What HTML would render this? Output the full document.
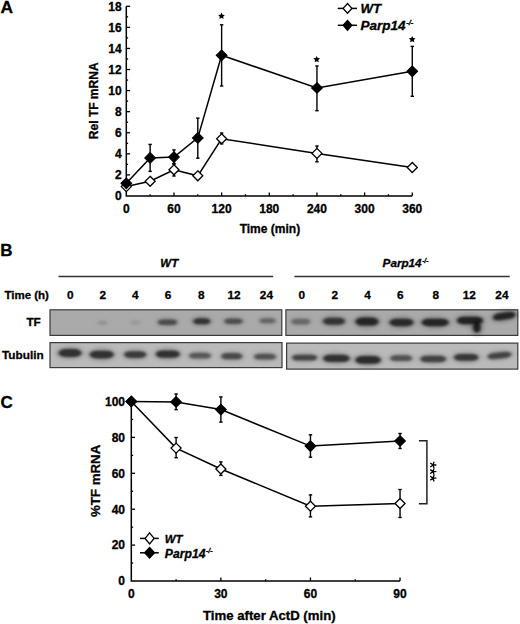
<!DOCTYPE html>
<html><head><meta charset="utf-8"><style>
html,body{margin:0;padding:0;background:#fff;}
body{width:520px;height:624px;overflow:hidden;}
svg{display:block;}
text{font-family:"Liberation Sans", sans-serif;font-weight:bold;fill:#000;stroke:#000;stroke-width:0.3px;}
</style></head><body>
<svg width="520" height="624" viewBox="0 0 520 624">
<text x="0.4" y="13.45" font-size="17.4" font-style="normal" text-anchor="start" >A</text>
<path d="M126.3,6.28 V196.0 H412.28" fill="none" stroke="#000" stroke-width="1.5"/>
<line x1="126.3" y1="185.46" x2="128.1" y2="185.46" stroke="#000" stroke-width="1.3"/>
<line x1="126.3" y1="174.92" x2="130.1" y2="174.92" stroke="#000" stroke-width="1.3"/>
<line x1="126.3" y1="164.38" x2="128.1" y2="164.38" stroke="#000" stroke-width="1.3"/>
<line x1="126.3" y1="153.84" x2="130.1" y2="153.84" stroke="#000" stroke-width="1.3"/>
<line x1="126.3" y1="143.30" x2="128.1" y2="143.30" stroke="#000" stroke-width="1.3"/>
<line x1="126.3" y1="132.76" x2="130.1" y2="132.76" stroke="#000" stroke-width="1.3"/>
<line x1="126.3" y1="122.22" x2="128.1" y2="122.22" stroke="#000" stroke-width="1.3"/>
<line x1="126.3" y1="111.68" x2="130.1" y2="111.68" stroke="#000" stroke-width="1.3"/>
<line x1="126.3" y1="101.14" x2="128.1" y2="101.14" stroke="#000" stroke-width="1.3"/>
<line x1="126.3" y1="90.60" x2="130.1" y2="90.60" stroke="#000" stroke-width="1.3"/>
<line x1="126.3" y1="80.06" x2="128.1" y2="80.06" stroke="#000" stroke-width="1.3"/>
<line x1="126.3" y1="69.52" x2="130.1" y2="69.52" stroke="#000" stroke-width="1.3"/>
<line x1="126.3" y1="58.98" x2="128.1" y2="58.98" stroke="#000" stroke-width="1.3"/>
<line x1="126.3" y1="48.44" x2="130.1" y2="48.44" stroke="#000" stroke-width="1.3"/>
<line x1="126.3" y1="37.90" x2="128.1" y2="37.90" stroke="#000" stroke-width="1.3"/>
<line x1="126.3" y1="27.36" x2="130.1" y2="27.36" stroke="#000" stroke-width="1.3"/>
<line x1="126.3" y1="16.82" x2="128.1" y2="16.82" stroke="#000" stroke-width="1.3"/>
<line x1="126.3" y1="6.28" x2="130.1" y2="6.28" stroke="#000" stroke-width="1.3"/>
<text x="121.6" y="200.3" font-size="12" font-style="normal" text-anchor="end" >0</text>
<text x="121.6" y="179.22000000000003" font-size="12" font-style="normal" text-anchor="end" >2</text>
<text x="121.6" y="158.14000000000001" font-size="12" font-style="normal" text-anchor="end" >4</text>
<text x="121.6" y="137.06" font-size="12" font-style="normal" text-anchor="end" >6</text>
<text x="121.6" y="115.98" font-size="12" font-style="normal" text-anchor="end" >8</text>
<text x="121.6" y="94.9" font-size="12" font-style="normal" text-anchor="end" >10</text>
<text x="121.6" y="73.82000000000001" font-size="12" font-style="normal" text-anchor="end" >12</text>
<text x="121.6" y="52.739999999999995" font-size="12" font-style="normal" text-anchor="end" >14</text>
<text x="121.6" y="31.660000000000014" font-size="12" font-style="normal" text-anchor="end" >16</text>
<text x="121.6" y="10.58000000000003" font-size="12" font-style="normal" text-anchor="end" >18</text>
<line x1="150.13" y1="196.0" x2="150.13" y2="194.2" stroke="#000" stroke-width="1.3"/>
<line x1="173.96" y1="196.0" x2="173.96" y2="192.4" stroke="#000" stroke-width="1.3"/>
<line x1="197.80" y1="196.0" x2="197.80" y2="194.2" stroke="#000" stroke-width="1.3"/>
<line x1="221.63" y1="196.0" x2="221.63" y2="192.4" stroke="#000" stroke-width="1.3"/>
<line x1="245.46" y1="196.0" x2="245.46" y2="194.2" stroke="#000" stroke-width="1.3"/>
<line x1="269.29" y1="196.0" x2="269.29" y2="192.4" stroke="#000" stroke-width="1.3"/>
<line x1="293.12" y1="196.0" x2="293.12" y2="194.2" stroke="#000" stroke-width="1.3"/>
<line x1="316.96" y1="196.0" x2="316.96" y2="192.4" stroke="#000" stroke-width="1.3"/>
<line x1="340.79" y1="196.0" x2="340.79" y2="194.2" stroke="#000" stroke-width="1.3"/>
<line x1="364.62" y1="196.0" x2="364.62" y2="192.4" stroke="#000" stroke-width="1.3"/>
<line x1="388.45" y1="196.0" x2="388.45" y2="194.2" stroke="#000" stroke-width="1.3"/>
<line x1="412.28" y1="196.0" x2="412.28" y2="192.4" stroke="#000" stroke-width="1.3"/>
<text x="126.3" y="213.3" font-size="12" font-style="normal" text-anchor="middle" >0</text>
<text x="173.964" y="213.3" font-size="12" font-style="normal" text-anchor="middle" >60</text>
<text x="221.628" y="213.3" font-size="12" font-style="normal" text-anchor="middle" >120</text>
<text x="269.292" y="213.3" font-size="12" font-style="normal" text-anchor="middle" >180</text>
<text x="316.956" y="213.3" font-size="12" font-style="normal" text-anchor="middle" >240</text>
<text x="364.62" y="213.3" font-size="12" font-style="normal" text-anchor="middle" >300</text>
<text x="412.284" y="213.3" font-size="12" font-style="normal" text-anchor="middle" >360</text>
<text x="269.9" y="233.2" font-size="12" font-style="normal" text-anchor="middle" >Time (min)</text>
<text x="0" y="0" font-size="12" font-style="normal" text-anchor="middle" transform="translate(98.4,100.8) rotate(-90)">Rel TF mRNA</text>
<line x1="173.96" y1="163.5" x2="173.96" y2="176.0" stroke="#000" stroke-width="1.4"/><line x1="172.26000000000002" y1="163.5" x2="175.66" y2="163.5" stroke="#000" stroke-width="1.4"/><line x1="172.26000000000002" y1="176.0" x2="175.66" y2="176.0" stroke="#000" stroke-width="1.4"/>
<line x1="221.63" y1="133.0" x2="221.63" y2="143.9" stroke="#000" stroke-width="1.4"/><line x1="219.93" y1="133.0" x2="223.32999999999998" y2="133.0" stroke="#000" stroke-width="1.4"/><line x1="219.93" y1="143.9" x2="223.32999999999998" y2="143.9" stroke="#000" stroke-width="1.4"/>
<line x1="316.96" y1="146.0" x2="316.96" y2="161.8" stroke="#000" stroke-width="1.4"/><line x1="315.26" y1="146.0" x2="318.65999999999997" y2="146.0" stroke="#000" stroke-width="1.4"/><line x1="315.26" y1="161.8" x2="318.65999999999997" y2="161.8" stroke="#000" stroke-width="1.4"/>
<line x1="150.13" y1="144.4" x2="150.13" y2="171.4" stroke="#000" stroke-width="1.4"/><line x1="148.43" y1="144.4" x2="151.82999999999998" y2="144.4" stroke="#000" stroke-width="1.4"/><line x1="148.43" y1="171.4" x2="151.82999999999998" y2="171.4" stroke="#000" stroke-width="1.4"/>
<line x1="173.96" y1="149.9" x2="173.96" y2="164.2" stroke="#000" stroke-width="1.4"/><line x1="172.26000000000002" y1="149.9" x2="175.66" y2="149.9" stroke="#000" stroke-width="1.4"/><line x1="172.26000000000002" y1="164.2" x2="175.66" y2="164.2" stroke="#000" stroke-width="1.4"/>
<line x1="197.8" y1="118.1" x2="197.8" y2="158.2" stroke="#000" stroke-width="1.4"/><line x1="196.10000000000002" y1="118.1" x2="199.5" y2="118.1" stroke="#000" stroke-width="1.4"/><line x1="196.10000000000002" y1="158.2" x2="199.5" y2="158.2" stroke="#000" stroke-width="1.4"/>
<line x1="221.63" y1="24.8" x2="221.63" y2="86.0" stroke="#000" stroke-width="1.4"/><line x1="219.93" y1="24.8" x2="223.32999999999998" y2="24.8" stroke="#000" stroke-width="1.4"/><line x1="219.93" y1="86.0" x2="223.32999999999998" y2="86.0" stroke="#000" stroke-width="1.4"/>
<line x1="316.96" y1="66.0" x2="316.96" y2="110.7" stroke="#000" stroke-width="1.4"/><line x1="315.26" y1="66.0" x2="318.65999999999997" y2="66.0" stroke="#000" stroke-width="1.4"/><line x1="315.26" y1="110.7" x2="318.65999999999997" y2="110.7" stroke="#000" stroke-width="1.4"/>
<line x1="412.28" y1="46.4" x2="412.28" y2="96.3" stroke="#000" stroke-width="1.4"/><line x1="410.58" y1="46.4" x2="413.97999999999996" y2="46.4" stroke="#000" stroke-width="1.4"/><line x1="410.58" y1="96.3" x2="413.97999999999996" y2="96.3" stroke="#000" stroke-width="1.4"/>
<polyline points="126.30,186.6 150.13,181.3 173.96,169.8 197.80,175.8 221.63,138.8 316.96,153.4 412.28,167.5" fill="none" stroke="#000" stroke-width="1.5"/>
<polyline points="126.30,183.3 150.13,157.9 173.96,157.1 197.80,137.9 221.63,55.3 316.96,88.0 412.28,71.3" fill="none" stroke="#000" stroke-width="1.5"/>
<path d="M126.30,181.60 L131.30,186.60 L126.30,191.60 L121.30,186.60 Z" fill="#fff" stroke="#000" stroke-width="1.3" stroke-linejoin="miter"/>
<path d="M150.13,176.30 L155.13,181.30 L150.13,186.30 L145.13,181.30 Z" fill="#fff" stroke="#000" stroke-width="1.3" stroke-linejoin="miter"/>
<path d="M173.96,164.80 L178.96,169.80 L173.96,174.80 L168.96,169.80 Z" fill="#fff" stroke="#000" stroke-width="1.3" stroke-linejoin="miter"/>
<path d="M197.80,170.80 L202.80,175.80 L197.80,180.80 L192.80,175.80 Z" fill="#fff" stroke="#000" stroke-width="1.3" stroke-linejoin="miter"/>
<path d="M221.63,133.80 L226.63,138.80 L221.63,143.80 L216.63,138.80 Z" fill="#fff" stroke="#000" stroke-width="1.3" stroke-linejoin="miter"/>
<path d="M316.96,148.40 L321.96,153.40 L316.96,158.40 L311.96,153.40 Z" fill="#fff" stroke="#000" stroke-width="1.3" stroke-linejoin="miter"/>
<path d="M412.28,162.50 L417.28,167.50 L412.28,172.50 L407.28,167.50 Z" fill="#fff" stroke="#000" stroke-width="1.3" stroke-linejoin="miter"/>
<path d="M126.30,178.10 L131.50,183.30 L126.30,188.50 L121.10,183.30 Z" fill="#000" stroke="#000" stroke-width="1.3" stroke-linejoin="miter"/>
<path d="M150.13,152.70 L155.33,157.90 L150.13,163.10 L144.93,157.90 Z" fill="#000" stroke="#000" stroke-width="1.3" stroke-linejoin="miter"/>
<path d="M173.96,151.90 L179.16,157.10 L173.96,162.30 L168.76,157.10 Z" fill="#000" stroke="#000" stroke-width="1.3" stroke-linejoin="miter"/>
<path d="M197.80,132.70 L203.00,137.90 L197.80,143.10 L192.60,137.90 Z" fill="#000" stroke="#000" stroke-width="1.3" stroke-linejoin="miter"/>
<path d="M221.63,50.10 L226.83,55.30 L221.63,60.50 L216.43,55.30 Z" fill="#000" stroke="#000" stroke-width="1.3" stroke-linejoin="miter"/>
<path d="M316.96,82.80 L322.16,88.00 L316.96,93.20 L311.76,88.00 Z" fill="#000" stroke="#000" stroke-width="1.3" stroke-linejoin="miter"/>
<path d="M412.28,66.10 L417.48,71.30 L412.28,76.50 L407.08,71.30 Z" fill="#000" stroke="#000" stroke-width="1.3" stroke-linejoin="miter"/>
<polygon points="221.50,12.60 222.53,14.68 224.83,15.02 223.16,16.64 223.56,18.93 221.50,17.85 219.44,18.93 219.84,16.64 218.17,15.02 220.47,14.68" fill="#000"/>
<polygon points="316.70,55.90 317.73,57.98 320.03,58.32 318.36,59.94 318.76,62.23 316.70,61.15 314.64,62.23 315.04,59.94 313.37,58.32 315.67,57.98" fill="#000"/>
<polygon points="412.20,35.90 413.23,37.98 415.53,38.32 413.86,39.94 414.26,42.23 412.20,41.15 410.14,42.23 410.54,39.94 408.87,38.32 411.17,37.98" fill="#000"/>
<line x1="337.8" y1="8.4" x2="357.0" y2="8.4" stroke="#000" stroke-width="1.5"/>
<path d="M347.50,3.50 L351.90,8.40 L347.50,13.30 L343.10,8.40 Z" fill="#fff" stroke="#000" stroke-width="1.3" stroke-linejoin="miter"/>
<line x1="337.8" y1="25.3" x2="357.0" y2="25.3" stroke="#000" stroke-width="1.5"/>
<path d="M347.50,20.40 L351.80,25.30 L347.50,30.20 L343.20,25.30 Z" fill="#000" stroke="#000" stroke-width="1.3" stroke-linejoin="miter"/>
<text x="360.6" y="13.2" font-size="13.2" font-style="italic" text-anchor="start" >WT</text>
<text x="360.6" y="30.2" font-size="13.5" font-style="italic" text-anchor="start" >Parp14<tspan font-size="7.6" dy="-5.6" dx="0.6">-/-</tspan></text>
<text x="0.2" y="255.9" font-size="17" font-style="normal" text-anchor="start" >B</text>
<text x="169.3" y="266.7" font-size="11.5" font-style="italic" text-anchor="middle" >WT</text>
<text x="382.6" y="267.0" font-size="11.7" font-style="italic" text-anchor="start" >Parp14<tspan font-size="6.6" dy="-4.0" dx="0.6">-/-</tspan></text>
<line x1="58.5" y1="276.5" x2="273.2" y2="276.5" stroke="#333" stroke-width="1.4"/>
<line x1="294.4" y1="276.5" x2="509.7" y2="276.5" stroke="#333" stroke-width="1.4"/>
<text x="4.4" y="298.9" font-size="11.5" font-style="normal" text-anchor="start" >Time (h)</text>
<text x="70.3" y="298.9" font-size="11.8" font-style="normal" text-anchor="middle" >0</text>
<text x="102.7" y="298.9" font-size="11.8" font-style="normal" text-anchor="middle" >2</text>
<text x="135.4" y="298.9" font-size="11.8" font-style="normal" text-anchor="middle" >4</text>
<text x="168.0" y="298.9" font-size="11.8" font-style="normal" text-anchor="middle" >6</text>
<text x="201.2" y="298.9" font-size="11.8" font-style="normal" text-anchor="middle" >8</text>
<text x="234.1" y="298.9" font-size="11.8" font-style="normal" text-anchor="middle" >12</text>
<text x="266.4" y="298.9" font-size="11.8" font-style="normal" text-anchor="middle" >24</text>
<text x="301.9" y="298.9" font-size="11.8" font-style="normal" text-anchor="middle" >0</text>
<text x="334.9" y="298.9" font-size="11.8" font-style="normal" text-anchor="middle" >2</text>
<text x="367.6" y="298.9" font-size="11.8" font-style="normal" text-anchor="middle" >4</text>
<text x="400.4" y="298.9" font-size="11.8" font-style="normal" text-anchor="middle" >6</text>
<text x="435.8" y="298.9" font-size="11.8" font-style="normal" text-anchor="middle" >8</text>
<text x="469.3" y="298.9" font-size="11.8" font-style="normal" text-anchor="middle" >12</text>
<text x="501.9" y="298.9" font-size="11.8" font-style="normal" text-anchor="middle" >24</text>
<text x="40.8" y="326.3" font-size="11.8" font-style="normal" text-anchor="end" >TF</text>
<text x="2.0" y="359.0" font-size="11.8" font-style="normal" text-anchor="start" >Tubulin</text>
<defs>
<filter id="bl" x="-50%" y="-150%" width="200%" height="400%"><feGaussianBlur stdDeviation="1.5 1.3"/></filter>
<filter id="bl2" x="-50%" y="-150%" width="200%" height="400%"><feGaussianBlur stdDeviation="2.4 2.0"/></filter>
</defs>
<rect x="50.0" y="309.8" width="231.8" height="25.599999999999966" fill="#aaaaaa" stroke="#3a3a3a" stroke-width="1.2"/>
<rect x="285.9" y="309.8" width="231.89999999999998" height="25.599999999999966" fill="#aaaaaa" stroke="#3a3a3a" stroke-width="1.2"/>
<rect x="50.0" y="342.6" width="232.0" height="25.0" fill="#bababa" stroke="#3a3a3a" stroke-width="1.2"/>
<rect x="286.6" y="343.1" width="231.19999999999993" height="26.0" fill="#bababa" stroke="#3a3a3a" stroke-width="1.2"/>
<ellipse cx="102.5" cy="322.8" rx="6.50" ry="3.20" fill="#000" fill-opacity="0.042" filter="url(#bl2)"/><rect x="98.00" y="320.80" width="9.00" height="4.00" rx="3.60" ry="2.00" fill="#000" fill-opacity="0.115" filter="url(#bl)"/>
<ellipse cx="135.5" cy="322.6" rx="6.50" ry="3.20" fill="#000" fill-opacity="0.030" filter="url(#bl2)"/><rect x="131.00" y="320.60" width="9.00" height="4.00" rx="3.60" ry="2.00" fill="#000" fill-opacity="0.082" filter="url(#bl)"/>
<ellipse cx="167.5" cy="322.2" rx="11.50" ry="4.48" fill="#000" fill-opacity="0.174" filter="url(#bl2)"/><rect x="158.00" y="319.40" width="19.00" height="5.60" rx="5.04" ry="2.80" fill="#000" fill-opacity="0.476" filter="url(#bl)"/>
<ellipse cx="201.8" cy="321.3" rx="10.50" ry="4.80" fill="#000" fill-opacity="0.228" filter="url(#bl2)"/><rect x="193.30" y="318.30" width="17.00" height="6.00" rx="5.40" ry="3.00" fill="#000" fill-opacity="0.623" filter="url(#bl)"/>
<ellipse cx="233.5" cy="321.3" rx="11.00" ry="4.32" fill="#000" fill-opacity="0.168" filter="url(#bl2)"/><rect x="224.50" y="318.60" width="18.00" height="5.40" rx="4.86" ry="2.70" fill="#000" fill-opacity="0.459" filter="url(#bl)"/>
<ellipse cx="267.5" cy="320.8" rx="10.00" ry="4.00" fill="#000" fill-opacity="0.120" filter="url(#bl2)"/><rect x="259.50" y="318.30" width="16.00" height="5.00" rx="4.50" ry="2.50" fill="#000" fill-opacity="0.328" filter="url(#bl)"/>
<ellipse cx="300.8" cy="321.6" rx="11.50" ry="4.64" fill="#000" fill-opacity="0.114" filter="url(#bl2)"/><rect x="291.30" y="318.70" width="19.00" height="5.80" rx="5.22" ry="2.90" fill="#000" fill-opacity="0.312" filter="url(#bl)"/>
<ellipse cx="334.0" cy="321.2" rx="13.00" ry="5.60" fill="#000" fill-opacity="0.222" filter="url(#bl2)"/><rect x="323.00" y="317.70" width="22.00" height="7.00" rx="6.30" ry="3.50" fill="#000" fill-opacity="0.607" filter="url(#bl)"/>
<ellipse cx="367.0" cy="321.6" rx="13.50" ry="6.40" fill="#000" fill-opacity="0.258" filter="url(#bl2)"/><rect x="355.50" y="317.60" width="23.00" height="8.00" rx="7.20" ry="4.00" fill="#000" fill-opacity="0.705" filter="url(#bl)"/>
<ellipse cx="401.5" cy="322.4" rx="14.00" ry="6.00" fill="#000" fill-opacity="0.246" filter="url(#bl2)"/><rect x="389.50" y="318.65" width="24.00" height="7.50" rx="6.75" ry="3.75" fill="#000" fill-opacity="0.672" filter="url(#bl)"/>
<ellipse cx="435.2" cy="322.4" rx="15.50" ry="6.00" fill="#000" fill-opacity="0.258" filter="url(#bl2)"/><rect x="421.70" y="318.65" width="27.00" height="7.50" rx="6.75" ry="3.75" fill="#000" fill-opacity="0.705" filter="url(#bl)"/>
<ellipse cx="470.0" cy="320.5" rx="15.00" ry="6.00" fill="#000" fill-opacity="0.264" filter="url(#bl2)"/><rect x="457.00" y="316.75" width="26.00" height="7.50" rx="6.75" ry="3.75" fill="#000" fill-opacity="0.722" filter="url(#bl)"/>
<ellipse cx="476.9" cy="327.6" rx="5.75" ry="8.00" fill="#000" fill-opacity="0.276" filter="url(#bl2)"/><rect x="473.15" y="322.60" width="7.50" height="10.00" rx="3.75" ry="5.00" fill="#000" fill-opacity="0.754" filter="url(#bl)"/>
<ellipse cx="504.2" cy="316.1" rx="13.50" ry="5.60" fill="#000" fill-opacity="0.264" filter="url(#bl2)" transform="rotate(-8.4 504.2 316.1)"/><rect x="492.70" y="312.60" width="23.00" height="7.00" rx="6.30" ry="3.50" fill="#000" fill-opacity="0.722" filter="url(#bl)" transform="rotate(-8.4 504.2 316.1)"/>
<ellipse cx="70.0" cy="353.0" rx="13.50" ry="6.24" fill="#000" fill-opacity="0.240" filter="url(#bl2)"/><rect x="58.50" y="349.10" width="23.00" height="7.80" rx="7.02" ry="3.90" fill="#000" fill-opacity="0.656" filter="url(#bl)"/>
<ellipse cx="101.7" cy="354.6" rx="14.00" ry="6.24" fill="#000" fill-opacity="0.240" filter="url(#bl2)"/><rect x="89.70" y="350.70" width="24.00" height="7.80" rx="7.02" ry="3.90" fill="#000" fill-opacity="0.656" filter="url(#bl)"/>
<ellipse cx="135.2" cy="354.6" rx="13.00" ry="5.44" fill="#000" fill-opacity="0.219" filter="url(#bl2)"/><rect x="124.20" y="351.20" width="22.00" height="6.80" rx="6.12" ry="3.40" fill="#000" fill-opacity="0.599" filter="url(#bl)"/>
<ellipse cx="167.8" cy="354.1" rx="14.00" ry="5.84" fill="#000" fill-opacity="0.240" filter="url(#bl2)"/><rect x="155.80" y="350.45" width="24.00" height="7.30" rx="6.57" ry="3.65" fill="#000" fill-opacity="0.656" filter="url(#bl)"/>
<ellipse cx="200.0" cy="355.7" rx="13.00" ry="4.64" fill="#000" fill-opacity="0.162" filter="url(#bl2)"/><rect x="189.00" y="352.80" width="22.00" height="5.80" rx="5.22" ry="2.90" fill="#000" fill-opacity="0.443" filter="url(#bl)"/>
<ellipse cx="231.8" cy="356.2" rx="12.50" ry="5.04" fill="#000" fill-opacity="0.189" filter="url(#bl2)"/><rect x="221.30" y="353.05" width="21.00" height="6.30" rx="5.67" ry="3.15" fill="#000" fill-opacity="0.517" filter="url(#bl)"/>
<ellipse cx="265.0" cy="356.7" rx="13.00" ry="4.64" fill="#000" fill-opacity="0.174" filter="url(#bl2)"/><rect x="254.00" y="353.80" width="22.00" height="5.80" rx="5.22" ry="2.90" fill="#000" fill-opacity="0.476" filter="url(#bl)"/>
<ellipse cx="304.6" cy="357.6" rx="14.50" ry="4.64" fill="#000" fill-opacity="0.201" filter="url(#bl2)"/><rect x="292.10" y="354.70" width="25.00" height="5.80" rx="5.22" ry="2.90" fill="#000" fill-opacity="0.549" filter="url(#bl)"/>
<ellipse cx="336.4" cy="358.3" rx="15.25" ry="5.84" fill="#000" fill-opacity="0.240" filter="url(#bl2)"/><rect x="323.15" y="354.65" width="26.50" height="7.30" rx="6.57" ry="3.65" fill="#000" fill-opacity="0.656" filter="url(#bl)"/>
<ellipse cx="368.1" cy="359.9" rx="14.70" ry="6.24" fill="#000" fill-opacity="0.252" filter="url(#bl2)"/><rect x="355.40" y="356.00" width="25.40" height="7.80" rx="7.02" ry="3.90" fill="#000" fill-opacity="0.689" filter="url(#bl)"/>
<ellipse cx="401.2" cy="358.2" rx="13.00" ry="4.64" fill="#000" fill-opacity="0.174" filter="url(#bl2)"/><rect x="390.20" y="355.30" width="22.00" height="5.80" rx="5.22" ry="2.90" fill="#000" fill-opacity="0.476" filter="url(#bl)"/>
<ellipse cx="433.2" cy="359.0" rx="14.80" ry="5.04" fill="#000" fill-opacity="0.207" filter="url(#bl2)"/><rect x="420.40" y="355.85" width="25.60" height="6.30" rx="5.67" ry="3.15" fill="#000" fill-opacity="0.566" filter="url(#bl)"/>
<ellipse cx="466.2" cy="357.4" rx="14.15" ry="5.44" fill="#000" fill-opacity="0.228" filter="url(#bl2)"/><rect x="454.05" y="354.00" width="24.30" height="6.80" rx="6.12" ry="3.40" fill="#000" fill-opacity="0.623" filter="url(#bl)"/>
<ellipse cx="499.5" cy="355.5" rx="13.85" ry="4.64" fill="#000" fill-opacity="0.207" filter="url(#bl2)" transform="rotate(-6 499.5 355.5)"/><rect x="487.65" y="352.60" width="23.70" height="5.80" rx="5.22" ry="2.90" fill="#000" fill-opacity="0.566" filter="url(#bl)" transform="rotate(-6 499.5 355.5)"/>
<text x="0.5" y="407.6" font-size="17" font-style="normal" text-anchor="start" >C</text>
<path d="M131.3,401.50 V581.0 H400.04" fill="none" stroke="#000" stroke-width="1.5"/>
<line x1="131.3" y1="563.05" x2="133.10000000000002" y2="563.05" stroke="#000" stroke-width="1.3"/>
<line x1="131.3" y1="545.10" x2="135.10000000000002" y2="545.10" stroke="#000" stroke-width="1.3"/>
<line x1="131.3" y1="527.15" x2="133.10000000000002" y2="527.15" stroke="#000" stroke-width="1.3"/>
<line x1="131.3" y1="509.20" x2="135.10000000000002" y2="509.20" stroke="#000" stroke-width="1.3"/>
<line x1="131.3" y1="491.25" x2="133.10000000000002" y2="491.25" stroke="#000" stroke-width="1.3"/>
<line x1="131.3" y1="473.30" x2="135.10000000000002" y2="473.30" stroke="#000" stroke-width="1.3"/>
<line x1="131.3" y1="455.35" x2="133.10000000000002" y2="455.35" stroke="#000" stroke-width="1.3"/>
<line x1="131.3" y1="437.40" x2="135.10000000000002" y2="437.40" stroke="#000" stroke-width="1.3"/>
<line x1="131.3" y1="419.45" x2="133.10000000000002" y2="419.45" stroke="#000" stroke-width="1.3"/>
<line x1="131.3" y1="401.50" x2="135.10000000000002" y2="401.50" stroke="#000" stroke-width="1.3"/>
<text x="125.0" y="585.3" font-size="12" font-style="normal" text-anchor="end" >0</text>
<text x="125.0" y="549.4" font-size="12" font-style="normal" text-anchor="end" >20</text>
<text x="125.0" y="513.5" font-size="12" font-style="normal" text-anchor="end" >40</text>
<text x="125.0" y="477.6" font-size="12" font-style="normal" text-anchor="end" >60</text>
<text x="125.0" y="441.7" font-size="12" font-style="normal" text-anchor="end" >80</text>
<text x="125.0" y="405.8" font-size="12" font-style="normal" text-anchor="end" >100</text>
<line x1="176.09" y1="581.0" x2="176.09" y2="579.2" stroke="#000" stroke-width="1.3"/>
<line x1="220.88" y1="581.0" x2="220.88" y2="577.4" stroke="#000" stroke-width="1.3"/>
<line x1="265.67" y1="581.0" x2="265.67" y2="579.2" stroke="#000" stroke-width="1.3"/>
<line x1="310.46" y1="581.0" x2="310.46" y2="577.4" stroke="#000" stroke-width="1.3"/>
<line x1="355.25" y1="581.0" x2="355.25" y2="579.2" stroke="#000" stroke-width="1.3"/>
<line x1="400.04" y1="581.0" x2="400.04" y2="577.4" stroke="#000" stroke-width="1.3"/>
<text x="131.3" y="598.2" font-size="12" font-style="normal" text-anchor="middle" >0</text>
<text x="220.88000000000002" y="598.2" font-size="12" font-style="normal" text-anchor="middle" >30</text>
<text x="310.46000000000004" y="598.2" font-size="12" font-style="normal" text-anchor="middle" >60</text>
<text x="400.04" y="598.2" font-size="12" font-style="normal" text-anchor="middle" >90</text>
<text x="269.3" y="619.5" font-size="13.2" font-style="normal" text-anchor="middle" >Time after ActD (min)</text>
<text x="0" y="0" font-size="13.3" font-style="normal" text-anchor="middle" transform="translate(99.8,480.9) rotate(-90)">%TF mRNA</text>
<line x1="176.09" y1="437.5" x2="176.09" y2="457.7" stroke="#000" stroke-width="1.4"/><line x1="174.39000000000001" y1="437.5" x2="177.79" y2="437.5" stroke="#000" stroke-width="1.4"/><line x1="174.39000000000001" y1="457.7" x2="177.79" y2="457.7" stroke="#000" stroke-width="1.4"/>
<line x1="220.88" y1="461.9" x2="220.88" y2="475.4" stroke="#000" stroke-width="1.4"/><line x1="219.18" y1="461.9" x2="222.57999999999998" y2="461.9" stroke="#000" stroke-width="1.4"/><line x1="219.18" y1="475.4" x2="222.57999999999998" y2="475.4" stroke="#000" stroke-width="1.4"/>
<line x1="310.46" y1="494.9" x2="310.46" y2="516.9" stroke="#000" stroke-width="1.4"/><line x1="308.76" y1="494.9" x2="312.15999999999997" y2="494.9" stroke="#000" stroke-width="1.4"/><line x1="308.76" y1="516.9" x2="312.15999999999997" y2="516.9" stroke="#000" stroke-width="1.4"/>
<line x1="400.04" y1="489.5" x2="400.04" y2="517.5" stroke="#000" stroke-width="1.4"/><line x1="398.34000000000003" y1="489.5" x2="401.74" y2="489.5" stroke="#000" stroke-width="1.4"/><line x1="398.34000000000003" y1="517.5" x2="401.74" y2="517.5" stroke="#000" stroke-width="1.4"/>
<line x1="176.09" y1="394.0" x2="176.09" y2="409.6" stroke="#000" stroke-width="1.4"/><line x1="174.39000000000001" y1="394.0" x2="177.79" y2="394.0" stroke="#000" stroke-width="1.4"/><line x1="174.39000000000001" y1="409.6" x2="177.79" y2="409.6" stroke="#000" stroke-width="1.4"/>
<line x1="220.88" y1="396.9" x2="220.88" y2="422.1" stroke="#000" stroke-width="1.4"/><line x1="219.18" y1="396.9" x2="222.57999999999998" y2="396.9" stroke="#000" stroke-width="1.4"/><line x1="219.18" y1="422.1" x2="222.57999999999998" y2="422.1" stroke="#000" stroke-width="1.4"/>
<line x1="310.46" y1="434.8" x2="310.46" y2="457.2" stroke="#000" stroke-width="1.4"/><line x1="308.76" y1="434.8" x2="312.15999999999997" y2="434.8" stroke="#000" stroke-width="1.4"/><line x1="308.76" y1="457.2" x2="312.15999999999997" y2="457.2" stroke="#000" stroke-width="1.4"/>
<line x1="400.04" y1="433.5" x2="400.04" y2="448.5" stroke="#000" stroke-width="1.4"/><line x1="398.34000000000003" y1="433.5" x2="401.74" y2="433.5" stroke="#000" stroke-width="1.4"/><line x1="398.34000000000003" y1="448.5" x2="401.74" y2="448.5" stroke="#000" stroke-width="1.4"/>
<polyline points="131.30,401.5 176.09,448.1 220.88,469.0 310.46,506.2 400.04,503.5" fill="none" stroke="#000" stroke-width="1.5"/>
<polyline points="131.30,401.5 176.09,401.9 220.88,409.6 310.46,446.1 400.04,441.0" fill="none" stroke="#000" stroke-width="1.5"/>
<path d="M131.30,396.50 L136.30,401.50 L131.30,406.50 L126.30,401.50 Z" fill="#fff" stroke="#000" stroke-width="1.3" stroke-linejoin="miter"/>
<path d="M176.09,443.10 L181.09,448.10 L176.09,453.10 L171.09,448.10 Z" fill="#fff" stroke="#000" stroke-width="1.3" stroke-linejoin="miter"/>
<path d="M220.88,464.00 L225.88,469.00 L220.88,474.00 L215.88,469.00 Z" fill="#fff" stroke="#000" stroke-width="1.3" stroke-linejoin="miter"/>
<path d="M310.46,501.20 L315.46,506.20 L310.46,511.20 L305.46,506.20 Z" fill="#fff" stroke="#000" stroke-width="1.3" stroke-linejoin="miter"/>
<path d="M400.04,498.50 L405.04,503.50 L400.04,508.50 L395.04,503.50 Z" fill="#fff" stroke="#000" stroke-width="1.3" stroke-linejoin="miter"/>
<path d="M131.30,396.30 L136.50,401.50 L131.30,406.70 L126.10,401.50 Z" fill="#000" stroke="#000" stroke-width="1.3" stroke-linejoin="miter"/>
<path d="M176.09,396.70 L181.29,401.90 L176.09,407.10 L170.89,401.90 Z" fill="#000" stroke="#000" stroke-width="1.3" stroke-linejoin="miter"/>
<path d="M220.88,404.40 L226.08,409.60 L220.88,414.80 L215.68,409.60 Z" fill="#000" stroke="#000" stroke-width="1.3" stroke-linejoin="miter"/>
<path d="M310.46,440.90 L315.66,446.10 L310.46,451.30 L305.26,446.10 Z" fill="#000" stroke="#000" stroke-width="1.3" stroke-linejoin="miter"/>
<path d="M400.04,435.80 L405.24,441.00 L400.04,446.20 L394.84,441.00 Z" fill="#000" stroke="#000" stroke-width="1.3" stroke-linejoin="miter"/>
<path d="M418.9,440.8 H426.9 V503.7 H418.9" fill="none" stroke="#222" stroke-width="1.5"/>
<path d="M433,465.0 L435.90,465.00 M433,465.0 L433.90,467.76 M433,465.0 L430.65,466.70 M433,465.0 L430.65,463.30 M433,465.0 L433.90,462.24 " stroke="#000" stroke-width="1.3" stroke-linecap="round" fill="none"/>
<path d="M433,471.6 L435.90,471.60 M433,471.6 L433.90,474.36 M433,471.6 L430.65,473.30 M433,471.6 L430.65,469.90 M433,471.6 L433.90,468.84 " stroke="#000" stroke-width="1.3" stroke-linecap="round" fill="none"/>
<path d="M433,478.2 L435.90,478.20 M433,478.2 L433.90,480.96 M433,478.2 L430.65,479.90 M433,478.2 L430.65,476.50 M433,478.2 L433.90,475.44 " stroke="#000" stroke-width="1.3" stroke-linecap="round" fill="none"/>
<line x1="140.0" y1="538.4" x2="158.8" y2="538.4" stroke="#000" stroke-width="1.5"/>
<path d="M149.60,532.90 L154.10,538.40 L149.60,543.90 L145.10,538.40 Z" fill="#fff" stroke="#000" stroke-width="1.3" stroke-linejoin="miter"/>
<line x1="140.0" y1="552.8" x2="158.8" y2="552.8" stroke="#000" stroke-width="1.5"/>
<path d="M149.60,547.50 L154.50,552.80 L149.60,558.10 L144.70,552.80 Z" fill="#000" stroke="#000" stroke-width="1.3" stroke-linejoin="miter"/>
<text x="164.8" y="542.8" font-size="11.4" font-style="italic" text-anchor="start" >WT</text>
<text x="164.8" y="557.8" font-size="12.2" font-style="italic" text-anchor="start" >Parp14<tspan font-size="7.2" dy="-4.8" dx="0.5">-/-</tspan></text>
</svg>
</body></html>
